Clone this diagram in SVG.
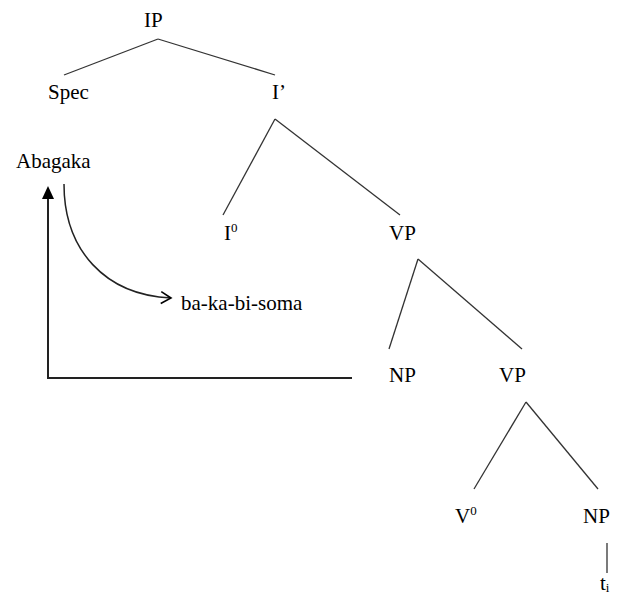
<svg xmlns="http://www.w3.org/2000/svg" width="618" height="596" viewBox="0 0 618 596">
<style>
text{font-family:'Liberation Serif','Times New Roman',Tinos,'DejaVu Serif',serif;font-size:21px;fill:#000}
.sup{font-size:13px}
.l{stroke:#333;stroke-width:1.3;fill:none}
.a{stroke:#222;stroke-width:2;fill:none}
</style>
<defs>
<marker id="open" markerWidth="14" markerHeight="14" refX="12" refY="7" orient="auto" markerUnits="userSpaceOnUse" viewBox="0 0 14 14">
<path d="M2,1 L12,7 L2,13" fill="none" stroke="#000" stroke-width="1.6"/>
</marker>
</defs>
<g id="connectors">
<line class="l" x1="158" y1="39" x2="64" y2="75"/>
<line class="l" x1="158" y1="39" x2="275" y2="75"/>
<line class="l" x1="275" y1="119" x2="223" y2="215"/>
<line class="l" x1="275" y1="119" x2="400" y2="215"/>
<line class="l" x1="418" y1="259" x2="389" y2="349"/>
<line class="l" x1="418" y1="259" x2="522" y2="349"/>
<line class="l" x1="526" y1="402" x2="474" y2="489"/>
<line class="l" x1="526" y1="402" x2="598" y2="489"/>
<line class="l" x1="607" y1="543" x2="607" y2="573"/>
<polyline class="a" points="352,378 48,378 48,196"/>
<path d="M48,186 L54,199 L42,199 Z" fill="#000"/>
<path class="l" d="M64,184 C64,250 105,295 171,298" marker-end="url(#open)" style="stroke:#222;stroke-width:1.5"/>
</g>
<g id="IP"><text x="144" y="27">IP</text></g>
<g id="Spec"><text x="48" y="99">Spec</text></g>
<g id="Ibar"><text x="272" y="99">I’</text></g>
<g id="Abagaka"><text x="16" y="168">Abagaka</text></g>
<g id="I0"><text x="224" y="240">I<tspan class="sup" dy="-8">0</tspan></text></g>
<g id="VP1"><text x="389" y="240">VP</text></g>
<g id="bakabisoma"><text x="181" y="310">ba-ka-bi-soma</text></g>
<g id="NP1"><text x="389" y="382">NP</text></g>
<g id="VP2"><text x="499" y="382">VP</text></g>
<g id="V0"><text x="455" y="523">V<tspan class="sup" dy="-8">0</tspan></text></g>
<g id="NP2"><text x="583" y="523">NP</text></g>
<g id="ti"><text x="600" y="590">t<tspan class="sup" dy="2">i</tspan></text></g>
</svg>
